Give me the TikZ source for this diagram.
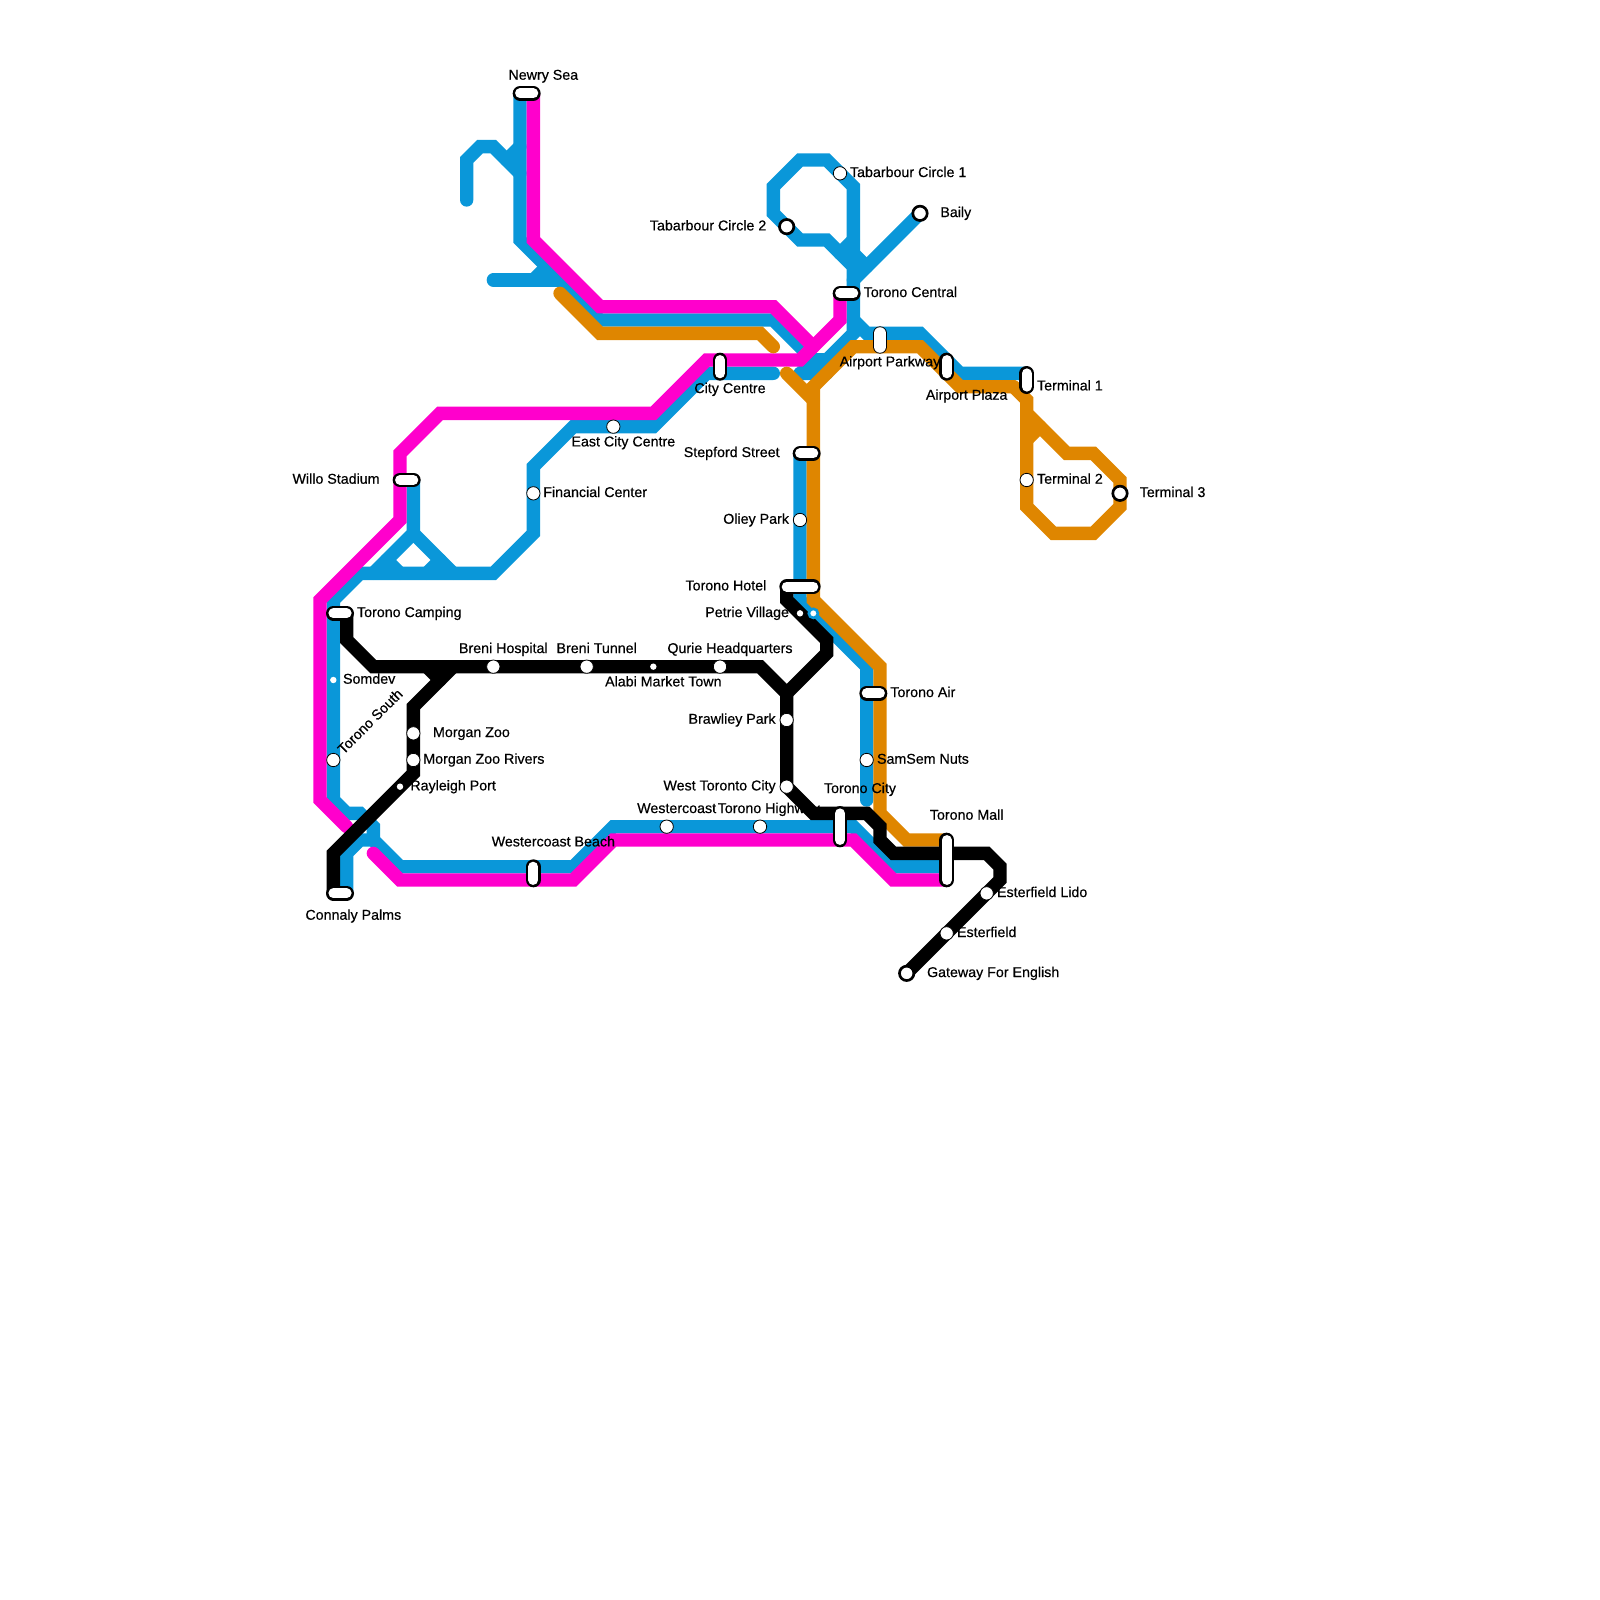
\documentclass[tikz,border=0pt]{standalone}
\usepackage{fontspec}
\setmainfont[FakeBold=0.45,AutoFakeBold=false]{Liberation Sans}
\definecolor{lblue}{HTML}{0A97D9}
\definecolor{lmag}{HTML}{FF00CC}
\definecolor{lora}{HTML}{DF8600}
\tikzset{
 x=0.25cm,y=-0.25cm,
 route/.style={line width=0.25cm,line cap=round,line join=miter,miter limit=10},
 blueline/.style={route,draw=lblue},
 magline/.style={route,draw=lmag},
 oraline/.style={route,draw=lora},
 blkline/.style={route,draw=black},
 stnthick/.style={circle,draw=black,fill=white,line width=0.05cm,minimum size=0.27cm,inner sep=0pt},
 stnthin/.style={circle,draw=black,fill=white,line width=0.015cm,minimum size=0.25cm,inner sep=0pt},
 stnsmall/.style={circle,fill=white,minimum size=0.12cm,inner sep=0pt},
 stnhalo/.style={circle,fill=white,draw=lblue,line width=0.05cm,minimum size=0.17cm,inner sep=0pt},
 ichout/.style={line width=0.275cm,line cap=round,draw=black},
 ichin/.style={line width=0.185cm,line cap=round,draw=white},
 thinout/.style={line width=0.2625cm,line cap=round,draw=black},
 thinin/.style={line width=0.23cm,line cap=round,draw=white},
 lab/.style={font=\fontsize{7.6pt}{9pt}\selectfont,inner sep=0pt,text height=5.4pt,text depth=0pt},
 labl/.style={lab,anchor=west},
 labr/.style={lab,anchor=east},
 labc/.style={lab,anchor=center},
}
\begin{document}
\begin{tikzpicture}
\useasboundingbox (0,0) rectangle (120,120);
% named station ends
\coordinate (newryA) at (39,7); \coordinate (newryB) at (40,7);
\coordinate (willoA) at (30,36); \coordinate (willoB) at (31,36);
\coordinate (cityA) at (54,27); \coordinate (cityB) at (54,28);
\coordinate (centA) at (63,22); \coordinate (centB) at (64,22);
\coordinate (parkA) at (66,25); \coordinate (parkB) at (66,26);
\coordinate (plazA) at (71,27); \coordinate (plazB) at (71,28);
\coordinate (termA) at (77,28); \coordinate (termB) at (77,29);
\coordinate (stepA) at (60,34); \coordinate (stepB) at (61,34);
\coordinate (hotelA) at (59,44); \coordinate (hotelM) at (60,44); \coordinate (hotelB) at (61,44);
\coordinate (airA) at (65,52); \coordinate (airB) at (66,52);
\coordinate (cityCA) at (63,61); \coordinate (cityCB) at (63,63);
\coordinate (mallA) at (71,63); \coordinate (mallB) at (71,66);
\coordinate (beachA) at (40,65); \coordinate (beachB) at (40,66);
\coordinate (campA) at (25,46); \coordinate (campB) at (26,46);
\coordinate (palmA) at (25,67); \coordinate (palmB) at (26,67);
\coordinate (baily) at (69,16);
\coordinate (gateway) at (68,73);
% blue
\draw[blueline] (35,15) -- (35,12) -- (36,11) -- (37,11) -- (39,13);
\draw[blueline] (38,12) -- (39,11);
\draw[blueline] (37,21) -- (42,21);
\draw[blueline] (40,21) -- (41,20);
\draw[blueline] (newryA) -- (39,18) -- (45,24) -- (58,24) -- (62,28);
\draw[blueline] (60,28) -- (61,28) -- (64,25) -- (centB);
\draw[blueline] (60,27) -- (62,27);
\draw[blueline] (centB) -- (64,14) -- (62,12) -- (60,12) -- (58,14) -- (58,16) -- (60,18) -- (62,18) -- (64,20);
\draw[blueline] (63,19) -- (64,18);
\draw[blueline] (64,19) -- (65,20);
\draw[blueline] (baily) -- (64,21);
\draw[blueline] (64,24) -- (65,25) -- (69,25) -- (72,28) -- (termA);
\draw[blueline] (58,28) -- (53,28) -- (49,32) -- (43,32) -- (40,35) -- (40,40) -- (37,43) -- (27,43) -- (25,45) -- (25,60) -- (26,61) -- (27,61) -- (28,62) -- (28,63) -- (30,65) -- (43,65) -- (46,62) -- (64,62) -- (67,65) -- (71,65);
\draw[blueline] (28,63) -- (27,63) -- (26,64) -- (palmB);
\draw[blueline] (willoB) -- (31,40) -- (28,43);
\draw[blueline] (31,40) -- (34,43);
\draw[blueline] (29,42) -- (30,43);
\draw[blueline] (33,42) -- (32,43);
\draw[blueline] (stepA) -- (hotelM) -- (60,45) -- (65,50) -- (65,60);
% magenta
\draw[magline] (newryB) -- (40,18) -- (45,23) -- (58,23) -- (61,26);
\draw[magline] (centA) -- (63,24) -- (60,27) -- (53,27) -- (49,31) -- (33,31) -- (30,34) -- (30,39) -- (24,45) -- (24,60) -- (26,62);
\draw[magline] (28,64) -- (30,66) -- (43,66) -- (46,63) -- (64,63) -- (67,66) -- (mallB);
% orange
\draw[oraline] (42,22) -- (45,25) -- (57,25) -- (58,26);
\draw[oraline] (59,28) -- (61,30);
\draw[oraline] (76,29) -- (72,29) -- (69,26) -- (64,26) -- (61,29) -- (61,45) -- (66,50) -- (66,61) -- (68,63) -- (mallA);
\draw[oraline] (76,29) -- (77,30) -- (77,38) -- (79,40) -- (82,40) -- (84,38) -- (84,36) -- (82,34) -- (80,34) -- (77,31);
\draw[oraline] (77,33) -- (78,32);
% black
\draw[blkline] (campB) -- (26,48) -- (28,50) -- (57,50) -- (59,52) -- (59,59) -- (61,61) -- (65,61) -- (66,62) -- (66,63) -- (67,64) -- (74,64) -- (75,65) -- (75,66) -- (gateway);
\draw[blkline] (hotelA) -- (59,45) -- (62,48) -- (62,49) -- (59,52);
\draw[blkline] (34,50) -- (31,53) -- (31,58) -- (25,64) -- (palmA);
\draw[blkline] (32,50) -- (33,51);
% interchanges
\foreach \a/\b in {newryA/newryB,willoA/willoB,cityA/cityB,centA/centB,termA/termB,stepA/stepB,hotelA/hotelB,airA/airB,cityCA/cityCB,mallA/mallB,beachA/beachB,campA/campB,palmA/palmB,plazA/plazB}{
 \draw[ichout] (\a) -- (\b);
 \draw[ichin] (\a) -- (\b);
}
\draw[thinout] (parkA) -- (parkB);
\draw[thinin] (parkA) -- (parkB);
% stations
\foreach \n/\p in {st1/{63,13},st2/{77,36},st3/{60,39},st4/{46,32},st5/{40,37},st6/{25,57},st7/{31,55},st8/{31,57},st9/{37,50},st10/{44,50},st11/{54,50},st12/{50,62},st13/{57,62},st14/{59,54},st15/{59,59},st16/{65,57},st17/{74,67},st18/{71,70}}{
 \node[stnthin] (\n) at (\p) {};
}
\foreach \n/\p in {th1/{59,17},th2/{69,16},th3/{84,37},th4/{68,73}}{
 \node[stnthick] (\n) at (\p) {};
}
\foreach \n/\p in {sm1/{25,51},sm2/{30,59},sm3/{49,50},sm4/{60,46}}{
 \node[stnsmall] (\n) at (\p) {};
}
\node[stnhalo] (sm5) at (61,46) {};
% labels
\node[labc] (l1) at (40.75,5.6) {Newry Sea};
\node[labr] (l2) at (57.5,16.9) {Tabarbour Circle 2};
\node[labc] (l3) at (54.75,29.1) {City Centre};
\node[labc] (l4) at (46.75,33.1) {East City Centre};
\node[labr] (l5) at (58.5,33.9) {Stepford Street};
\node[labr] (l6) at (28.5,35.9) {Willo Stadium};
\node[labl] (l7) at (40.72,36.9) {Financial Center};
\node[labr] (l8) at (59.2,38.9) {Oliey Park};
\node[labl] (l9) at (63.72,12.9) {Tabarbour Circle 1};
\node[labl] (l10) at (70.5,15.9) {Baily};
\node[labl] (l11) at (64.75,21.9) {Torono Central};
\node[labc] (l12) at (66.75,27.1) {Airport Parkway};
\node[labc] (l13) at (72.5,29.6) {Airport Plaza};
\node[labl] (l14) at (77.75,28.9) {Terminal 1};
\node[labl] (l15) at (77.75,35.9) {Terminal 2};
\node[labl] (l16) at (85.45,36.9) {Terminal 3};
\node[labr] (l17) at (57.5,43.9) {Torono Hotel};
\node[labr] (l18) at (59.2,45.9) {Petrie Village};
\node[labc] (l19) at (54.75,48.6) {Qurie Headquarters};
\node[labc] (l20) at (49.75,51.1) {Alabi Market Town};
\node[labc] (l21) at (37.75,48.6) {Breni Hospital};
\node[labc] (l22) at (44.75,48.6) {Breni Tunnel};
\node[labl] (l23) at (26.75,45.9) {Torono Camping};
\node[labl] (l24) at (25.7,50.9) {Somdev};
\node[labl] (l25) at (32.45,54.9) {Morgan Zoo};
\node[labl] (l26) at (31.72,56.9) {Morgan Zoo Rivers};
\node[labl] (l27) at (30.75,58.9) {Rayleigh Port};
\node[labc,rotate=45] (l28) at (27.75,54.1) {Torono South};
\node[labc] (l29) at (26.5,68.6) {Connaly Palms};
\node[labc] (l30) at (41.5,63.1) {Westercoast Beach};
\node[labc] (l31) at (50.75,60.6) {Westercoast};
\node[labl] (l32) at (53.8,60.6) {Torono Highway};
\node[labr] (l33) at (58.2,53.9) {Brawliey Park};
\node[labr] (l34) at (58.2,58.9) {West Toronto City};
\node[labl] (l35) at (66.75,51.9) {Torono Air};
\node[labl] (l36) at (65.75,56.9) {SamSem Nuts};
\node[labc] (l37) at (64.5,59.1) {Torono City};
\node[labc] (l38) at (72.5,61.1) {Torono Mall};
\node[labl] (l39) at (74.75,66.9) {Esterfield Lido};
\node[labl] (l40) at (71.75,69.9) {Esterfield};
\node[labl] (l41) at (69.5,72.9) {Gateway For English};
\end{tikzpicture}
\end{document}
